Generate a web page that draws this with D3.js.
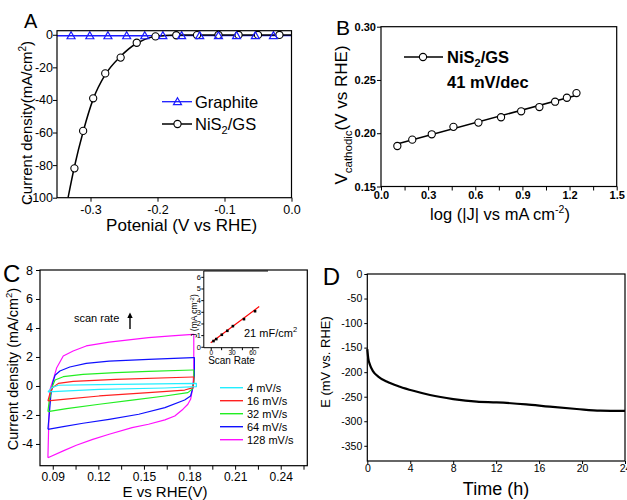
<!DOCTYPE html>
<html>
<head>
<meta charset="utf-8">
<script src="https://cdn.jsdelivr.net/npm/d3@7"></script>
<style>
body{margin:0;background:#fff;}
svg{display:block;font-family:"Liberation Sans",Arial,sans-serif;}
</style>
</head>
<body>
<div id="chart"></div>
<script>
// ---- panel A : polarization curves
var graphiteE = [-0.329,-0.301,-0.274,-0.246,-0.219,-0.192,-0.164,-0.137,-0.109,-0.082,-0.054,-0.027];
var graphiteJ = [-0.6,-0.6,-0.6,-0.6,-0.6,-0.5,-0.5,-0.5,-0.5,-0.5,-0.5,-0.5];
var nisE = [-0.324,-0.311,-0.296,-0.278,-0.255,-0.231,-0.203,-0.172,-0.141,-0.109,-0.079,-0.050,-0.018];
var nisJ = [-82,-59,-39,-23.7,-14,-4.9,-1,-0.3,-0.2,-0.1,-0.1,-0.1,-0.1];
var nisLineE = [-0.3335,-0.324,-0.311,-0.296,-0.278,-0.255,-0.231,-0.21,-0.19,-0.17,-0.14,-0.1,-0.05,0];
var nisLineJ = [-100,-81,-59.5,-39.5,-24.5,-13.2,-5.2,-1.6,-0.5,-0.2,-0.1,-0.1,-0.1,-0.1];

// ---- panel B : Tafel
var tafelX = [0.104,0.199,0.323,0.461,0.620,0.764,0.892,1.008,1.108,1.183,1.244];
var tafelV = [0.188,0.194,0.199,0.206,0.210,0.215,0.2206,0.2246,0.2296,0.2333,0.2377];
var tafelFitX = [0.09,1.24];
var tafelFitV = [0.1895,0.2355];

// ---- panel C : CV loops
var cvRates = ['4 mV/s','16 mV/s','32 mV/s','64 mV/s','128 mV/s'];
var cvColors = ['#22eeff','#ff2020','#22ee22','#1010ff','#ff10ff'];
var cv4E  = [0.0868,0.0894,0.0937,0.1206,0.1845,0.1845,0.1638,0.1206,0.0868];
var cv4J  = [-0.41,-0.11,0.05,0.09,0.18,-0.05,-0.14,-0.23,-0.41];
var cv16E = [0.0868,0.0883,0.0900,0.0937,0.1034,0.1314,0.1822,0.1828,0.1824,0.1768,0.1530,0.1206,0.0969,0.0868];
var cv16J = [-1.03,-0.46,-0.11,0.18,0.32,0.46,0.62,0.62,-0.11,-0.28,-0.46,-0.69,-0.92,-1.03];
var cv32E = [0.0868,0.0878,0.0894,0.0915,0.0969,0.1099,0.1314,0.1530,0.1822,0.1828,0.1828,0.1817,0.1789,0.1638,0.1422,0.1206,0.0991,0.0868];
var cv32J = [-1.77,-0.92,-0.11,0.41,0.64,0.80,0.92,1.01,1.10,1.10,0.23,-0.23,-0.46,-0.69,-0.97,-1.26,-1.56,-1.77];
var cv64E = [0.0868,0.0878,0.0887,0.0900,0.0915,0.0947,0.1012,0.1120,0.1271,0.1530,0.1822,0.1832,0.1832,0.1822,0.1807,0.1768,0.1638,0.1466,0.1271,0.1099,0.0969,0.0868];
var cv64J = [-2.99,-1.84,-0.69,0.23,0.74,1.03,1.31,1.56,1.72,1.84,1.95,1.95,0.69,-0.11,-0.69,-0.97,-1.49,-1.95,-2.30,-2.57,-2.80,-2.99];
var cv128E = [0.0868,0.0875,0.0883,0.0904,0.0926,0.0969,0.1034,0.1120,0.1271,0.1530,0.1681,0.1822,0.1828,0.1828,0.1822,0.1807,0.1789,0.1757,0.1703,0.1638,0.1530,0.1422,0.1271,0.1163,0.1055,0.0969,0.0868];
var cv128J = [-4.95,-2.0,-0.2,0.46,1.26,2.07,2.41,2.76,3.03,3.33,3.45,3.56,3.56,1.0,-0.11,-0.92,-1.26,-1.60,-2.07,-2.34,-2.64,-2.87,-3.33,-3.68,-4.09,-4.48,-4.95];

// ---- inset : capacitance
var insetRate = [4,8,16,24,32,48,64];
var insetJ = [0.49,0.66,1.03,1.37,1.77,2.37,3.05];
var insetFitRate = [0,70];
var insetFitJ = [0.34,3.45];

// ---- panel D : stability
var timeH = [0,0.09,0.25,0.56,1.02,1.8,3.04,4.29,5.84,8.0,10.2,12.05,14.8,17.0,19.5,21.7,24];
var potE = [-153,-172,-185,-199,-209,-219,-229.6,-238,-246.6,-254.8,-260,-261.5,-265.6,-270.4,-275,-278.5,-279];

var svg = d3.select('#chart').append('svg').attr('width',627).attr('height',500);

function zip(a,b){
	var out = [];
	for(var i=0;i<a.length;i++){ out.push([a[i],b[i]]); }
	return out;
}

function frame(x0,y0,x1,y1){
	svg.append('rect').attr('x',x0).attr('y',y0).attr('width',x1-x0).attr('height',y1-y0)
		.attr('fill','none').attr('stroke','#000').attr('stroke-width',1.2);
}

function styleAxis(g,size,weight){
	g.select('.domain').remove();
	g.selectAll('.tick line').attr('stroke','#000').attr('stroke-width',1);
	g.selectAll('.tick text').attr('fill','#000')
		.style('font-size',size+'px').style('font-weight',weight||'normal')
		.style('font-family','"Liberation Sans",Arial,sans-serif');
}

function label(x,y,txt,size,opt){
	opt = opt || {};
	var t = svg.append('text').attr('x',x).attr('y',y).text(txt)
		.style('font-size',size+'px').attr('fill','#000');
	if(opt.anchor) t.attr('text-anchor',opt.anchor);
	if(opt.bold) t.style('font-weight','bold');
	return t;
}

function rotLabel(x,y,size){
	return svg.append('text').attr('transform','translate('+x+','+y+') rotate(-90)')
		.attr('text-anchor','middle').style('font-size',size+'px').attr('fill','#000');
}

function triangle(g,x,y,color){
	g.append('path').attr('d','M'+x+','+(y-4)+'L'+(x+4)+','+(y+3)+'L'+(x-4)+','+(y+3)+'Z')
		.attr('fill','none').attr('stroke',color).attr('stroke-width',1.2);
}

// ===================== A
var aX = d3.scaleLinear().domain([-0.35,0]).range([57,291.5]);
var aY = d3.scaleLinear().domain([-100,2.5]).range([197.7,30.7]);
var gA = svg.append('g');

var axA = svg.append('g').attr('transform','translate(0,197.7)')
	.call(d3.axisBottom(aX).tickValues([-0.3,-0.2,-0.1,0]).tickFormat(function(d){return d.toFixed(1);}).tickSize(4).tickSizeOuter(0));
styleAxis(axA,12.5);
var ayA = svg.append('g').attr('transform','translate(57,0)')
	.call(d3.axisLeft(aY).tickValues([0,-20,-40,-60,-80,-100]).tickFormat(function(d){return d;}).tickSize(4).tickSizeOuter(0));
styleAxis(ayA,12.5);
ayA.selectAll('.tick text').attr('x',-4);

var lineA = d3.line().x(function(d){return aX(d[0]);}).y(function(d){return aY(d[1]);});
gA.append('path').datum(zip([-0.35].concat(graphiteE,[0]),[-0.6].concat(graphiteJ,[-0.5])))
	.attr('d',lineA).attr('fill','none').attr('stroke','#1a1aff').attr('stroke-width',1.3);
gA.append('path').datum(zip(nisLineE,nisLineJ))
	.attr('d',lineA.curve(d3.curveMonotoneX)).attr('fill','none').attr('stroke','#000').attr('stroke-width',1.5);
zip(nisE,nisJ).forEach(function(d){
	gA.append('circle').attr('cx',aX(d[0])).attr('cy',aY(d[1])).attr('r',3.6)
		.attr('fill','#fff').attr('stroke','#000').attr('stroke-width',1.1);
});
zip(graphiteE,graphiteJ).forEach(function(d){ triangle(gA,aX(d[0]),aY(d[1]),'#1a1aff'); });
frame(57,30.7,291.5,197.7);

// legend A
svg.append('line').attr('x1',162).attr('x2',192).attr('y1',101.7).attr('y2',101.7).attr('stroke','#1a1aff').attr('stroke-width',1.3);
triangle(svg,177.5,101.7,'#1a1aff');
label(195,107.5,'Graphite',16.5);
svg.append('line').attr('x1',162).attr('x2',192).attr('y1',124).attr('y2',124).attr('stroke','#000').attr('stroke-width',1.5);
svg.append('circle').attr('cx',177.5).attr('cy',124).attr('r',3.6).attr('fill','#fff').attr('stroke','#000').attr('stroke-width',1.1);
var tA = label(195,130,'NiS',16.5);
tA.append('tspan').attr('dy',4).style('font-size','11px').text('2');
tA.append('tspan').attr('dy',-4).text('/GS');

label(24,28.3,'A',20);
label(181.7,230.5,'Potenial (V vs RHE)',17,{anchor:'middle'});
var yA = rotLabel(32,123,15).text('Current density(mA/cm');
yA.append('tspan').attr('dy',-6).style('font-size','10px').text('2');
yA.append('tspan').attr('dy',6).text(')');

// ===================== B
var bX = d3.scaleLinear().domain([0,1.5]).range([381,616.7]);
var bY = d3.scaleLinear().domain([0.15,0.30]).range([186.5,26.7]);
var axB = svg.append('g').attr('transform','translate(0,186.5)')
	.call(d3.axisBottom(bX).tickValues([0,0.15,0.3,0.45,0.6,0.75,0.9,1.05,1.2,1.35,1.5])
		.tickFormat(function(d,i){return i%2==0 ? d.toFixed(1) : '';}).tickSize(4).tickSizeOuter(0));
styleAxis(axB,11,'bold');
axB.selectAll('.tick text').attr('y',5);
var ayB = svg.append('g').attr('transform','translate(381,0)')
	.call(d3.axisLeft(bY).tickValues([0.15,0.2,0.25,0.3]).tickFormat(function(d){return d.toFixed(2);}).tickSize(4).tickSizeOuter(0));
styleAxis(ayB,11,'bold');
ayB.selectAll('.tick text').attr('x',-5);

var lineB = d3.line().x(function(d){return bX(d[0]);}).y(function(d){return bY(d[1]);});
svg.append('path').datum(zip(tafelFitX,tafelFitV)).attr('d',lineB)
	.attr('fill','none').attr('stroke','#000').attr('stroke-width',1.6);
zip(tafelX,tafelV).forEach(function(d){
	svg.append('circle').attr('cx',bX(d[0])).attr('cy',bY(d[1])).attr('r',3.6)
		.attr('fill','#fff').attr('stroke','#000').attr('stroke-width',1.1);
});
frame(381,26.7,616.7,186.5);

svg.append('line').attr('x1',404).attr('x2',443).attr('y1',57).attr('y2',57).attr('stroke','#000').attr('stroke-width',1.3);
svg.append('circle').attr('cx',423).attr('cy',57).attr('r',3.6).attr('fill','#fff').attr('stroke','#000').attr('stroke-width',1.1);
var tB = label(447,63,'NiS',16.5,{bold:true});
tB.append('tspan').attr('dy',4).style('font-size','11px').text('2');
tB.append('tspan').attr('dy',-4).text('/GS');
label(447,88,'41 mV/dec',16.5,{bold:true});

label(336,35,'B',21);
var xB = label(500,220,'log (|J| vs mA cm',16.5,{anchor:'middle'});
xB.append('tspan').attr('dy',-7).style('font-size','10.5px').text('-2');
xB.append('tspan').attr('dy',7).text(')');
var yB = rotLabel(347,115,17).text('V');
yB.append('tspan').attr('dy',5).style('font-size','11.5px').text('cathodic');
yB.append('tspan').attr('dy',-5).text('(V vs RHE)');

// ===================== C
var cX = d3.scaleLinear().domain([0.0816,0.2575]).range([40,307.3]);
var cY = d3.scaleLinear().domain([-5.5,8]).range([465.7,270]);
var axC = svg.append('g').attr('transform','translate(0,465.7)')
	.call(d3.axisBottom(cX).tickValues([0.09,0.105,0.12,0.135,0.15,0.165,0.18,0.195,0.21,0.225,0.24,0.255])
		.tickFormat(function(d,i){return i%2==0 ? d.toFixed(2) : '';}).tickSize(4).tickSizeOuter(0));
styleAxis(axC,12);
var ayC = svg.append('g').attr('transform','translate(40,0)')
	.call(d3.axisLeft(cY).tickValues([-4,-2,0,2,4,6,8]).tickFormat(function(d){return d;}).tickSize(4).tickSizeOuter(0));
styleAxis(ayC,12.5);

var lineC = d3.line().x(function(d){return cX(d[0]);}).y(function(d){return cY(d[1]);});
var cvSets = [[cv4E,cv4J],[cv16E,cv16J],[cv32E,cv32J],[cv64E,cv64J],[cv128E,cv128J]];
for(var i=cvSets.length-1;i>=0;i--){
	svg.append('path').datum(zip(cvSets[i][0],cvSets[i][1])).attr('d',lineC)
		.attr('fill','none').attr('stroke',cvColors[i]).attr('stroke-width',1.2).attr('stroke-linejoin','round');
}
frame(40,270,307.3,465.7);

for(var k=0;k<cvRates.length;k++){
	var ly = 387.7 + k*13;
	svg.append('line').attr('x1',220).attr('x2',243).attr('y1',ly).attr('y2',ly)
		.attr('stroke',cvColors[k]).attr('stroke-width',1.4);
	label(247,ly+4,cvRates[k],11);
}

label(74,322,'scan rate',11);
svg.append('line').attr('x1',130).attr('x2',130).attr('y1',329).attr('y2',316).attr('stroke','#000').attr('stroke-width',1.4);
svg.append('path').attr('d','M127.3,318L130,312.5L132.7,318Z').attr('fill','#000');

// inset
var iX = d3.scaleLinear().domain([-10,70]).range([203.8,259.2]);
var iY = d3.scaleLinear().domain([-0.08,6.5]).range([347.7,271]);
var axI = svg.append('g').attr('transform','translate(0,347.7)')
	.call(d3.axisBottom(iX).tickValues([0,15,30,45,60]).tickFormat(function(d,i){return i%2==0 ? d : '';}).tickSize(2.5).tickSizeOuter(0));
styleAxis(axI,6.5);
axI.selectAll('.tick text').attr('y',3);
var ayI = svg.append('g').attr('transform','translate(203.8,0)')
	.call(d3.axisLeft(iY).tickValues([0,1,2,3,4,5,6]).tickFormat(function(d){return d;}).tickSize(2.5).tickSizeOuter(0));
styleAxis(ayI,7.5);
ayI.selectAll('.tick text').attr('x',-3);
svg.append('line').attr('x1',203.8).attr('x2',203.8).attr('y1',271).attr('y2',347.7).attr('stroke','#000').attr('stroke-width',1);
svg.append('line').attr('x1',203.8).attr('x2',259.2).attr('y1',347.7).attr('y2',347.7).attr('stroke','#000').attr('stroke-width',1);
svg.append('line').attr('x1',203.8).attr('x2',268).attr('y1',271).attr('y2',271).attr('stroke','#000').attr('stroke-width',1.2);
var lineI = d3.line().x(function(d){return iX(d[0]);}).y(function(d){return iY(d[1]);});
svg.append('path').datum(zip(insetFitRate,insetFitJ)).attr('d',lineI)
	.attr('fill','none').attr('stroke','#ff0000').attr('stroke-width',1.2);
zip(insetRate,insetJ).forEach(function(d){
	svg.append('rect').attr('x',iX(d[0])-1.3).attr('y',iY(d[1])-1.3).attr('width',2.6).attr('height',2.6).attr('fill','#000');
});
label(231.5,364,'Scan Rate',10,{anchor:'middle'});
var yI = rotLabel(196.5,316,8.5).text('J (mA cm');
yI.append('tspan').attr('dy',-3).style('font-size','6px').text('-2');
yI.append('tspan').attr('dy',3).text(')');
var tI = label(244,337,'21 mF/cm',11);
tI.append('tspan').attr('dy',-5).style('font-size','7.5px').text('2');

label(3,281.7,'C',24);
label(165,497,'E vs RHE(V)',15,{anchor:'middle'});
var yC = rotLabel(18,369,14.5).text('Current density (mA/cm');
yC.append('tspan').attr('dy',-6).style('font-size','9.5px').text('2');
yC.append('tspan').attr('dy',6).text(')');

// ===================== D
var dX = d3.scaleLinear().domain([0,24]).range([367.3,625]);
var dY = d3.scaleLinear().domain([-381,0]).range([461,274]);
var axD = svg.append('g').attr('transform','translate(0,461)')
	.call(d3.axisBottom(dX).tickValues([0,4,8,12,16,20,24]).tickFormat(function(d){return d;}).tickSize(3).tickSizeOuter(0));
styleAxis(axD,10.5);
axD.selectAll('.tick text').attr('y',4);
var ayD = svg.append('g').attr('transform','translate(367.3,0)')
	.call(d3.axisLeft(dY).tickValues([0,-50,-100,-150,-200,-250,-300,-350]).tickFormat(function(d){return d;}).tickSize(3).tickSizeOuter(0));
styleAxis(ayD,10.5);
ayD.selectAll('.tick text').attr('x',-5);

var lineD = d3.line().x(function(d){return dX(d[0]);}).y(function(d){return dY(d[1]);}).curve(d3.curveMonotoneX);
svg.append('path').datum(zip(timeH,potE)).attr('d',lineD)
	.attr('fill','none').attr('stroke','#000').attr('stroke-width',2.2);
frame(367.3,274,625,461);

label(322.7,285,'D',24);
label(496,495,'Time (h)',18,{anchor:'middle'});
rotLabel(330,362,13).text('E (mV vs. RHE)');
</script>
</body>
</html>
